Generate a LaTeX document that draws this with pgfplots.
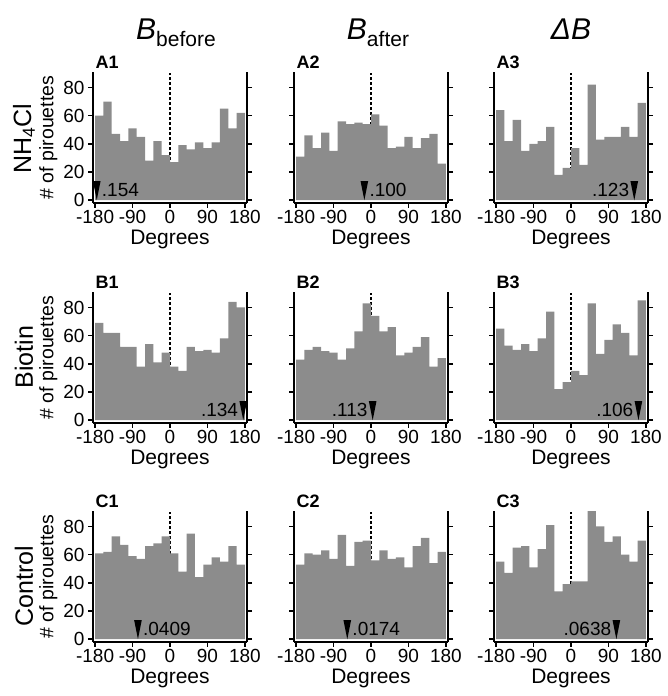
\documentclass[border=0pt]{standalone}
\usepackage{fontspec}
\setmainfont{Liberation Sans}
\usepackage{pgfplots}
\usepackage{pgfplotstable}
\pgfplotsset{compat=1.18}
\definecolor{barg}{HTML}{8C8C8C}

\newcommand{\fs}[1]{\fontsize{#1}{#1}\selectfont}

% tall narrow down-pointing arrowhead, tip at the data point
\pgfdeclareplotmark{dtri}{%
  \pgfpathmoveto{\pgfqpoint{0pt}{0pt}}%
  \pgfpathlineto{\pgfqpoint{-3.8pt}{19pt}}%
  \pgfpathlineto{\pgfqpoint{3.8pt}{19pt}}%
  \pgfpathclose\pgfusepathqfill}

% counts per 20-degree bin (last row repeats the last bin to close it)
\pgfplotstableread{
deg  A1 A2 A3 B1 B2 B3 C1 C2 C3
-180 60 31 64 69 43 65 61 53 55
-160 70 46 42 62 50 53 62 61 47
-140 47 37 57 62 52 50 73 60 65
-120 42 48 35 52 49 54 67 63 66
-100 51 35 40 52 48 49 59 57 51
-80  45 56 42 38 43 58 57 74 64
-60  28 54 52 54 51 77 66 52 81
-40  42 55 18 41 63 22 68 69 34
-20  32 54 23 48 83 27 73 70 39
0    27 61 37 38 74 35 61 56 41
20   39 53 25 35 63 32 48 63 41
40   36 37 82 52 66 83 75 57 91
60   41 38 43 49 46 47 44 58 80
80   37 45 45 50 48 57 53 51 69
100  41 37 45 48 52 68 58 66 73
120  65 44 52 58 59 62 55 72 60
140  51 47 45 84 38 46 66 54 55
160  62 26 69 80 44 85 53 62 70
180  62 26 69 80 44 85 53 62 70
}\hist

\pgfplotsset{
  panel/.style={
    scale only axis, width=154pt, height=131pt,
    anchor=south west,
    xmin=-185, xmax=185, ymin=-2, ymax=91,
    axis x line*=bottom, axis y line*=box,
    axis line style={line width=1.9pt, black},
    tick style={line width=1.6pt, black},
    major tick length=5pt,
    tick align=outside,
    xtick={-180,-90,0,90,180},
    xticklabels={-180,-90,0,90,180},
    ytick={0,20,40,60,80},
    yticklabels={},
    tick label style={font=\fs{19}},
    xticklabel style={yshift=1pt},
    xlabel={Degrees},
    xlabel style={font=\fs{21}, yshift=1pt},
    clip=false,
  },
  firstcol/.style={
    yticklabels={0,20,40,60,80},
    ylabel={\# of pirouettes},
    ylabel style={font=\fs{19.5}, yshift=-1pt},
  },
  pval/.style={black, only marks, mark=dtri, nodes near coords, point meta=explicit symbolic},
  zeroline/.style={black, line width=2pt, dash pattern=on 3pt off 2pt},
  bars/.style={ybar interval, fill=barg, draw=none},
  labright/.style={every node near coord/.style={anchor=south west, inner sep=0pt, font=\fs{19}, xshift=5pt, yshift=3pt}},
  lableft/.style={every node near coord/.style={anchor=south east, inner sep=0pt, font=\fs{19}, xshift=-5pt, yshift=3pt}},
}

\begin{document}
\begin{tikzpicture}
\useasboundingbox (0pt,0pt) rectangle (668pt,696pt);

% column titles
\node[anchor=base] at (176pt,656pt) {\fs{30}\textit{B}\raisebox{-7pt}{\fs{21}before}};
\node[anchor=base] at (378pt,656pt) {\fs{30}\textit{B}\raisebox{-7pt}{\fs{21}after}};
\node[anchor=base] at (571pt,656pt) {\fs{30}\textit{ΔB}};

% row labels
\node[rotate=90] at (24pt,557pt) {\fs{25}NH\textsubscript{4}Cl};
\node[rotate=90] at (24pt,339pt) {\fs{25}Biotin};
\node[rotate=90] at (24pt,110pt) {\fs{25}Control};

% ---- row A ----
\begin{axis}[panel, firstcol, at={(93pt,493pt)}]
  \addplot[zeroline] coordinates {(0,0) (0,90)};
  \addplot[bars] table[x=deg, y=A1] {\hist};
  \addplot[pval, labright] coordinates {(-176,0) [.154]};
\end{axis}
\begin{axis}[panel, at={(294pt,493pt)}]
  \addplot[zeroline] coordinates {(0,0) (0,90)};
  \addplot[bars] table[x=deg, y=A2] {\hist};
  \addplot[pval, labright] coordinates {(-16,0) [.100]};
\end{axis}
\begin{axis}[panel, at={(494pt,493pt)}]
  \addplot[zeroline] coordinates {(0,0) (0,90)};
  \addplot[bars] table[x=deg, y=A3] {\hist};
  \addplot[pval, lableft] coordinates {(152,0) [.123]};
\end{axis}

% ---- row B ----
\begin{axis}[panel, firstcol, at={(93pt,273pt)}]
  \addplot[zeroline] coordinates {(0,0) (0,90)};
  \addplot[bars] table[x=deg, y=B1] {\hist};
  \addplot[pval, lableft] coordinates {(176,0) [.134]};
\end{axis}
\begin{axis}[panel, at={(294pt,273pt)}]
  \addplot[zeroline] coordinates {(0,0) (0,90)};
  \addplot[bars] table[x=deg, y=B2] {\hist};
  \addplot[pval, lableft] coordinates {(4,0) [.113]};
\end{axis}
\begin{axis}[panel, at={(494pt,273pt)}]
  \addplot[zeroline] coordinates {(0,0) (0,90)};
  \addplot[bars] table[x=deg, y=B3] {\hist};
  \addplot[pval, lableft] coordinates {(162,0) [.106]};
\end{axis}

% ---- row C ----
\begin{axis}[panel, firstcol, at={(93pt,54pt)}]
  \addplot[zeroline] coordinates {(0,0) (0,90)};
  \addplot[bars] table[x=deg, y=C1] {\hist};
  \addplot[pval, labright] coordinates {(-77,0) [.0409]};
\end{axis}
\begin{axis}[panel, at={(294pt,54pt)}]
  \addplot[zeroline] coordinates {(0,0) (0,90)};
  \addplot[bars] table[x=deg, y=C2] {\hist};
  \addplot[pval, labright] coordinates {(-57,0) [.0174]};
\end{axis}
\begin{axis}[panel, at={(494pt,54pt)}]
  \addplot[zeroline] coordinates {(0,0) (0,90)};
  \addplot[bars] table[x=deg, y=C3] {\hist};
  \addplot[pval, lableft] coordinates {(109,0) [.0638]};
\end{axis}

% panel letters
\node[anchor=base west, font=\fs{18}\bfseries] at (92pt,627pt) {A1};
\node[anchor=base west, font=\fs{18}\bfseries] at (293pt,627pt) {A2};
\node[anchor=base west, font=\fs{18}\bfseries] at (493pt,627pt) {A3};
\node[anchor=base west, font=\fs{18}\bfseries] at (92pt,407pt) {B1};
\node[anchor=base west, font=\fs{18}\bfseries] at (293pt,407pt) {B2};
\node[anchor=base west, font=\fs{18}\bfseries] at (493pt,407pt) {B3};
\node[anchor=base west, font=\fs{18}\bfseries] at (92pt,188pt) {C1};
\node[anchor=base west, font=\fs{18}\bfseries] at (293pt,188pt) {C2};
\node[anchor=base west, font=\fs{18}\bfseries] at (493pt,188pt) {C3};
\end{tikzpicture}
\end{document}
